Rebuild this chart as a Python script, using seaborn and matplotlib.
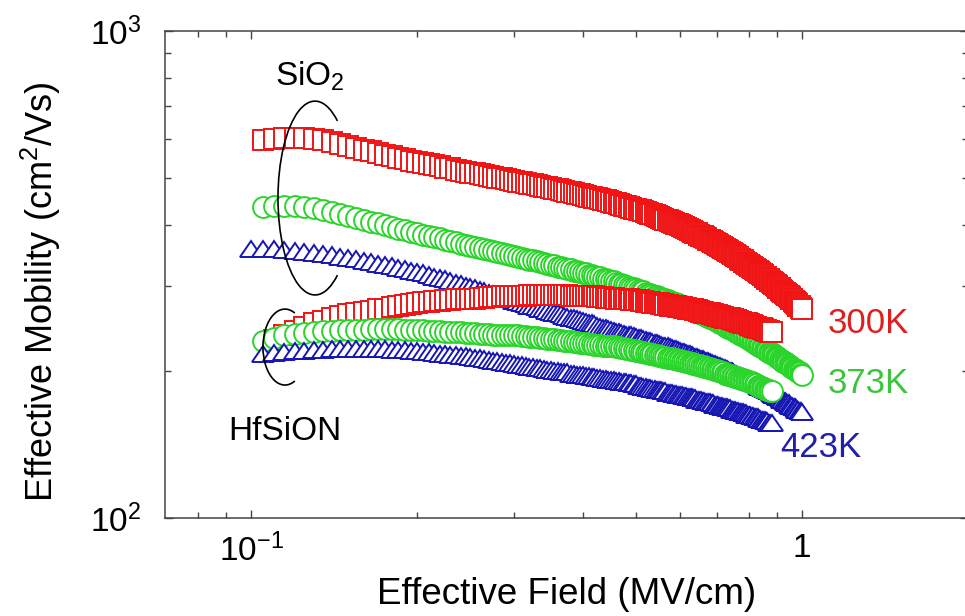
import matplotlib
matplotlib.use("Agg")
import matplotlib.pyplot as plt
from matplotlib.patches import Arc
from matplotlib.markers import MarkerStyle
from matplotlib.transforms import Affine2D
from matplotlib.ticker import FixedLocator, NullFormatter
import seaborn as sns

# ---------------- data ----------------
# effective field sweep (MV/cm)
E_field = [
    0.100, 0.105, 0.110, 0.115, 0.120, 0.125, 0.130, 0.135, 0.140, 0.145,
    0.150, 0.155, 0.160, 0.165, 0.170, 0.175, 0.180, 0.185, 0.190, 0.195,
    0.200, 0.205, 0.210, 0.215, 0.220, 0.225, 0.230, 0.235, 0.240, 0.245,
    0.250, 0.255, 0.260, 0.265, 0.270, 0.275, 0.280, 0.285, 0.290, 0.295,
    0.300, 0.305, 0.310, 0.315, 0.320, 0.325, 0.330, 0.335, 0.340, 0.345,
    0.350, 0.355, 0.360, 0.365, 0.370, 0.375, 0.380, 0.385, 0.390, 0.395,
    0.400, 0.405, 0.410, 0.415, 0.420, 0.425, 0.430, 0.435, 0.440, 0.445,
    0.450, 0.455, 0.460, 0.465, 0.470, 0.475, 0.480, 0.485, 0.490, 0.495,
    0.500, 0.505, 0.510, 0.515, 0.520, 0.525, 0.530, 0.535, 0.540, 0.545,
    0.550, 0.555, 0.560, 0.565, 0.570, 0.575, 0.580, 0.585, 0.590, 0.595,
    0.600, 0.605, 0.610, 0.615, 0.620, 0.625, 0.630, 0.635, 0.640, 0.645,
    0.650, 0.655, 0.660, 0.665, 0.670, 0.675, 0.680, 0.685, 0.690, 0.695,
    0.700, 0.705, 0.710, 0.715, 0.720, 0.725, 0.730, 0.735, 0.740, 0.745,
    0.750, 0.755, 0.760, 0.765, 0.770, 0.775, 0.780, 0.785, 0.790, 0.795,
    0.800, 0.805, 0.810, 0.815, 0.820, 0.825, 0.830, 0.835, 0.840, 0.845,
    0.850, 0.855, 0.860, 0.865, 0.870, 0.875, 0.880, 0.885, 0.890, 0.895,
    0.900, 0.905, 0.910, 0.915, 0.920, 0.925, 0.930, 0.935, 0.940, 0.945,
    0.950, 0.955, 0.960, 0.965, 0.970, 0.975, 0.980, 0.985, 0.990, 0.995,
    1.000,
]

# first field value of each measured curve
start_SiO2_300K = 0.105
start_SiO2_373K = 0.105
start_SiO2_423K = 0.100
start_HfSiON_300K = 0.110
start_HfSiON_373K = 0.105
start_HfSiON_423K = 0.105

# effective mobility (cm^2/Vs), SiO2
mu_SiO2_300K = [
    596, 600, 603, 604, 603, 600, 596, 591, 586, 581,
    576, 571, 566, 562, 557, 553, 549, 545, 541, 538,
    535, 532, 530, 527, 524, 522, 519, 517, 514, 512,
    510, 508, 506, 504, 502, 500, 498, 496, 494, 492,
    490, 489, 487, 486, 484, 482, 481, 479, 478, 476,
    474, 473, 471, 470, 468, 466, 465, 463, 462, 460,
    459, 457, 456, 454, 453, 452, 450, 449, 447, 446,
    444, 443, 441, 440, 438, 437, 435, 434, 432, 431,
    429, 428, 426, 425, 423, 421, 420, 418, 417, 415,
    413, 412, 410, 409, 407, 405, 404, 402, 401, 399,
    397, 396, 394, 392, 390, 389, 387, 385, 384, 382,
    380, 379, 377, 375, 373, 372, 370, 368, 367, 365,
    363, 362, 360, 358, 356, 355, 353, 351, 350, 348,
    346, 345, 343, 341, 339, 338, 336, 334, 333, 331,
    329, 328, 326, 325, 323, 321, 320, 318, 317, 315,
    313, 312, 310, 309, 307, 305, 304, 302, 301, 299,
    297, 296, 294, 293, 291, 290, 288, 287, 285, 284,
    282, 281, 279, 278, 276, 275, 273, 272, 270, 269,
]
mu_SiO2_373K = [
    435, 437, 438, 438, 436, 433, 429, 425, 421, 417,
    413, 410, 406, 403, 400, 396, 393, 390, 387, 384,
    382, 379, 377, 375, 373, 371, 369, 366, 364, 362,
    360, 359, 357, 355, 354, 352, 350, 348, 347, 345,
    344, 342, 341, 339, 338, 337, 335, 334, 332, 331,
    330, 328, 327, 326, 325, 324, 322, 321, 320, 319,
    318, 316, 315, 314, 313, 312, 310, 309, 308, 307,
    306, 304, 303, 302, 301, 300, 298, 297, 296, 295,
    294, 293, 292, 290, 289, 288, 287, 286, 285, 284,
    283, 282, 281, 280, 279, 278, 277, 276, 275, 274,
    273, 272, 271, 270, 269, 268, 267, 266, 265, 264,
    263, 262, 261, 260, 259, 258, 257, 256, 255, 254,
    253, 252, 251, 250, 248, 247, 246, 245, 244, 243,
    242, 241, 240, 239, 238, 237, 236, 235, 234, 233,
    232, 231, 230, 229, 228, 227, 226, 225, 224, 223,
    222, 221, 220, 219, 218, 218, 217, 216, 215, 214,
    213, 212, 211, 210, 209, 209, 208, 207, 206, 205,
    204, 203, 202, 202, 201, 200, 199, 199, 198, 197,
]
mu_SiO2_423K = [
    357,
    357, 356, 355, 353, 352, 350, 348, 346, 344, 342,
    340, 337, 335, 333, 331, 329, 326, 324, 322, 320,
    318, 315, 313, 311, 309, 307, 304, 302, 300, 298,
    296, 294, 292, 290, 288, 287, 285, 283, 281, 279,
    278, 276, 275, 273, 272, 271, 269, 268, 266, 265,
    264, 263, 262, 260, 259, 258, 257, 256, 255, 254,
    253, 252, 251, 250, 248, 247, 246, 245, 244, 243,
    242, 241, 241, 240, 239, 238, 237, 237, 236, 235,
    234, 234, 233, 232, 231, 231, 230, 229, 229, 228,
    227, 226, 226, 225, 224, 223, 222, 222, 221, 220,
    219, 219, 218, 217, 217, 216, 215, 214, 214, 213,
    212, 212, 211, 210, 210, 209, 208, 207, 207, 206,
    205, 205, 204, 203, 203, 202, 201, 200, 200, 199,
    198, 198, 197, 196, 196, 195, 194, 193, 193, 192,
    191, 191, 190, 189, 189, 188, 187, 186, 186, 185,
    184, 184, 183, 182, 182, 181, 180, 179, 179, 178,
    177, 177, 176, 175, 175, 174, 173, 172, 172, 171,
    170, 170, 169, 169, 168, 167, 167, 166, 166, 165,
]

# effective mobility (cm^2/Vs), HfSiON
mu_HfSiON_300K = [
    232, 237, 242, 247, 251, 254, 257, 260, 262,
    264, 265, 266, 268, 269, 271, 272, 274, 275, 277,
    278, 278, 279, 279, 280, 280, 281, 281, 282, 282,
    282, 283, 283, 284, 284, 284, 285, 285, 286, 286,
    286, 286, 286, 287, 287, 287, 287, 287, 287, 287,
    287, 287, 287, 287, 287, 286, 286, 286, 286, 286,
    286, 285, 285, 285, 284, 284, 284, 283, 283, 283,
    283, 282, 282, 282, 281, 281, 281, 280, 280, 280,
    280, 279, 279, 278, 278, 278, 277, 277, 276, 276,
    275, 275, 274, 274, 273, 273, 272, 272, 271, 271,
    271, 270, 270, 269, 269, 268, 268, 267, 267, 266,
    265, 265, 264, 264, 263, 263, 262, 262, 261, 261,
    260, 260, 259, 259, 258, 258, 257, 257, 256, 256,
    255, 255, 254, 253, 253, 252, 252, 251, 251, 250,
    249, 249, 248, 247, 247, 246, 246, 245, 245, 244,
    243, 243, 242, 242, 241, 241,
]
mu_HfSiON_373K = [
    231, 234, 237, 239, 240, 241, 242, 242, 243, 243,
    243, 243, 244, 244, 244, 244, 244, 243, 243, 243,
    243, 242, 242, 242, 241, 241, 241, 241, 240, 240,
    240, 239, 239, 239, 238, 238, 238, 238, 237, 237,
    237, 236, 236, 235, 235, 235, 234, 234, 233, 233,
    233, 232, 232, 231, 231, 231, 230, 230, 229, 229,
    229, 228, 228, 227, 227, 227, 226, 226, 225, 225,
    225, 224, 224, 223, 223, 222, 222, 221, 221, 220,
    220, 219, 219, 218, 218, 217, 217, 216, 216, 215,
    215, 214, 214, 213, 213, 213, 212, 212, 211, 211,
    210, 210, 209, 209, 208, 208, 207, 207, 206, 206,
    205, 205, 204, 204, 203, 203, 202, 202, 201, 201,
    200, 200, 199, 199, 198, 198, 197, 197, 196, 196,
    195, 195, 194, 194, 193, 193, 192, 192, 191, 191,
    190, 190, 189, 188, 188, 187, 187, 186, 186, 185,
    184, 184, 183, 183, 182, 182,
]
mu_HfSiON_423K = [
    217, 218, 219, 220, 220, 221, 221, 222, 222, 222,
    222, 222, 222, 222, 222, 221, 221, 221, 220, 220,
    219, 219, 218, 217, 217, 216, 216, 215, 215, 214,
    213, 213, 212, 211, 210, 210, 209, 208, 208, 207,
    206, 206, 205, 204, 204, 203, 203, 202, 201, 201,
    200, 200, 199, 199, 199, 198, 198, 197, 197, 197,
    196, 196, 195, 195, 194, 194, 193, 193, 192, 192,
    192, 191, 191, 190, 190, 190, 189, 189, 188, 188,
    187, 187, 186, 186, 185, 185, 184, 184, 183, 183,
    183, 182, 182, 181, 181, 181, 180, 180, 179, 179,
    179, 178, 178, 177, 177, 177, 176, 176, 175, 175,
    175, 174, 174, 173, 173, 173, 172, 172, 171, 171,
    171, 170, 170, 169, 169, 169, 168, 168, 167, 167,
    167, 166, 166, 165, 165, 165, 164, 164, 163, 163,
    163, 162, 162, 161, 161, 161, 160, 160, 159, 159,
    159, 158, 158, 157, 157, 157,
]

temp_labels = ["300K", "373K", "423K"]
x_tick_values = [0.1, 1]
x_tick_labels = [r"$\mathregular{10^{-1}}$", "1"]
x_minor_values = [0.08, 0.09, 0.2, 0.3, 0.4, 0.5, 0.6, 0.7, 0.8, 0.9, 2]
y_tick_values = [100, 1000]
y_tick_labels = [r"$\mathregular{10^{2}}$", r"$\mathregular{10^{3}}$"]
y_minor_values = [200, 300, 400, 500, 600, 700, 800, 900]

# ---------------- style ----------------
sns.set_theme(style="ticks")
plt.rcParams["font.family"] = ["Liberation Sans", "DejaVu Sans"]
plt.rcParams["mathtext.fontset"] = "custom"
plt.rcParams["mathtext.rm"] = "Liberation Sans"
plt.rcParams["mathtext.it"] = "Liberation Sans:italic"
plt.rcParams["mathtext.bf"] = "Liberation Sans:bold"

RED = "#f01414"
GREEN = "#2ad42a"
BLUE = "#1616b4"
TRI = MarkerStyle("^", transform=Affine2D().scale(1.0, 0.7))

fig = plt.figure(figsize=(9.65, 6.16), dpi=100)
fig.patch.set_facecolor("white")
ax = fig.add_axes([165 / 965, 98 / 616, 803 / 965, 487 / 616])
ax.set_xscale("log")
ax.set_yscale("log")

series = [
    (start_SiO2_300K, mu_SiO2_300K, "s", RED, 14),
    (start_SiO2_373K, mu_SiO2_373K, "o", GREEN, 15),
    (start_SiO2_423K, mu_SiO2_423K, TRI, BLUE, 16),
    (start_HfSiON_300K, mu_HfSiON_300K, "s", RED, 14),
    (start_HfSiON_373K, mu_HfSiON_373K, "o", GREEN, 15),
    (start_HfSiON_423K, mu_HfSiON_423K, TRI, BLUE, 16),
]
for start, mu, mk, col, ms in series:
    i0 = E_field.index(start)
    xs = E_field[i0:i0 + len(mu)]
    sns.lineplot(x=xs, y=mu, ax=ax, estimator=None, sort=False,
                 color=col, linestyle="none", marker=mk, markersize=ms,
                 markerfacecolor="white", markeredgecolor=col,
                 markeredgewidth=1.4)

ax.set_xlim(0.0698, 2.0)
ax.set_ylim(100, 1000)

ax.xaxis.set_major_locator(FixedLocator(x_tick_values))
ax.xaxis.set_minor_locator(FixedLocator(x_minor_values))
ax.set_xticklabels(x_tick_labels)
ax.xaxis.set_minor_formatter(NullFormatter())
ax.yaxis.set_major_locator(FixedLocator(y_tick_values))
ax.yaxis.set_minor_locator(FixedLocator(y_minor_values))
ax.set_yticklabels(y_tick_labels)
ax.yaxis.set_minor_formatter(NullFormatter())

ax.tick_params(which="both", direction="in", top=True, right=True,
               color="#444444", width=1.0)
ax.tick_params(which="major", length=6)
ax.tick_params(which="minor", length=4)
ax.tick_params(axis="x", which="major", labelsize=24, pad=11, labelcolor="black")
ax.tick_params(axis="y", which="major", labelsize=24, pad=17, labelcolor="black")
for sp in ax.spines.values():
    sp.set_color("#444444")
    sp.set_linewidth(1.1)

ax.set_xlabel("Effective Field (MV/cm)", fontsize=26.5, color="black")
ax.set_ylabel("Effective Mobility (cm$^\\mathregular{2}$/Vs)", fontsize=26, color="black")
ax.xaxis.set_label_coords(0.5, -0.122)
ax.yaxis.set_label_coords(-0.127, 0.465)

# annotations
ax.text(0.8257, 0.3799, temp_labels[0], transform=ax.transAxes, color="#dd1f1f",
        fontsize=25, ha="left", va="baseline")
ax.text(0.8257, 0.2567, temp_labels[1], transform=ax.transAxes, color="#3dc43d",
        fontsize=25, ha="left", va="baseline")
ax.text(0.7659, 0.1253, temp_labels[2], transform=ax.transAxes, color="#1f1fa8",
        fontsize=25, ha="left", va="baseline")
ax.text(0.137, 0.887, "SiO$_\\mathregular{2}$", transform=ax.transAxes, color="black",
        fontsize=24, ha="left", va="baseline")
ax.text(0.0785, 0.1602, "HfSiON", transform=ax.transAxes, color="black",
        fontsize=24, ha="left", va="baseline")

ax.add_patch(Arc((0.1868, 0.657), 0.0922, 0.398, theta1=80, theta2=280,
                 transform=ax.transAxes, color="black", lw=1.2, zorder=5))
ax.add_patch(Arc((0.1494, 0.351), 0.0548, 0.156, theta1=80, theta2=280,
                 transform=ax.transAxes, color="black", lw=1.2, zorder=5))

fig.savefig("out.png", dpi=100, facecolor="white")
